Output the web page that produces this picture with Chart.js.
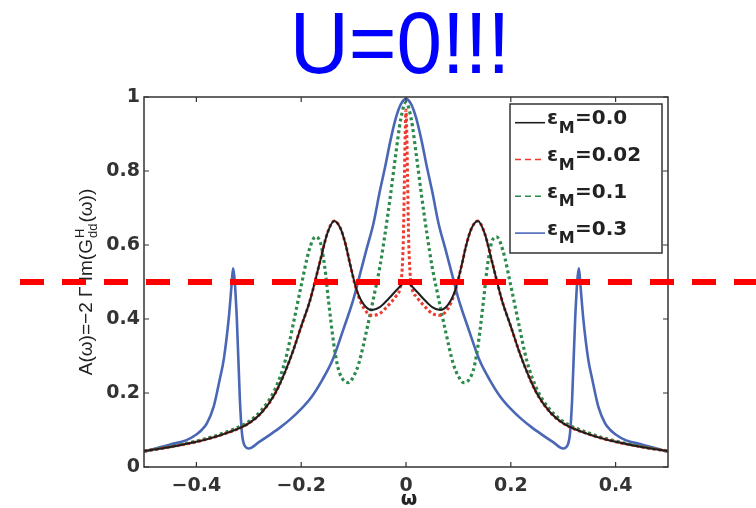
<!DOCTYPE html>
<html>
<head>
<meta charset="utf-8">
<script src="https://cdn.jsdelivr.net/npm/chart.js@4.4.1/dist/chart.umd.min.js"></script>
<style>
  html, body { margin: 0; padding: 0; background: #fff; }
  #wrap { width: 756px; height: 508px; }
</style>
</head>
<body>
<div id="wrap"><canvas id="spec" width="756" height="508"></canvas></div>
<script>
// ---- data ----
const titleText = 'U=0!!!';
const xTicks = [-0.4, -0.2, 0, 0.2, 0.4];
const yTicks = [0, 0.2, 0.4, 0.6, 0.8, 1];
const legendValues = ['0.0', '0.02', '0.1', '0.3'];
const cutLevel = 0.5;

// eps_M = 0.0 (black)
const wBlack = [-0.5, -0.45, -0.4, -0.35, -0.3, -0.275, -0.25, -0.23, -0.215, -0.2, -0.183, -0.165, -0.15, -0.137, -0.125, -0.115, -0.107, -0.094, -0.08, -0.065, -0.05, -0.035, -0.02, -0.01, 0,
                0.01, 0.02, 0.035, 0.05, 0.065, 0.08, 0.094, 0.107, 0.115, 0.125, 0.137, 0.15, 0.165, 0.183, 0.2, 0.215, 0.23, 0.25, 0.275, 0.3, 0.35, 0.4, 0.45, 0.5];
const aBlack = [0.043, 0.054, 0.068, 0.088, 0.118, 0.148, 0.198, 0.26, 0.316, 0.38, 0.451, 0.55, 0.632, 0.665, 0.645, 0.6, 0.55, 0.478, 0.438, 0.424, 0.432, 0.452, 0.475, 0.49, 0.5,
                0.49, 0.475, 0.452, 0.432, 0.424, 0.438, 0.478, 0.55, 0.6, 0.645, 0.665, 0.632, 0.55, 0.451, 0.38, 0.316, 0.26, 0.198, 0.148, 0.118, 0.088, 0.068, 0.054, 0.043];

// eps_M = 0.02 (red)
const wRed = [-0.5, -0.45, -0.4, -0.35, -0.3, -0.275, -0.25, -0.23, -0.215, -0.2, -0.183, -0.165, -0.15, -0.137, -0.125, -0.115, -0.107, -0.094, -0.08, -0.065, -0.05, -0.035, -0.02, -0.012, -0.008, -0.005, -0.003, -0.0015, 0,
              0.0015, 0.003, 0.005, 0.008, 0.012, 0.02, 0.035, 0.05, 0.065, 0.08, 0.094, 0.107, 0.115, 0.125, 0.137, 0.15, 0.165, 0.183, 0.2, 0.215, 0.23, 0.25, 0.275, 0.3, 0.35, 0.4, 0.45, 0.5];
const aRed = [0.043, 0.054, 0.068, 0.088, 0.118, 0.148, 0.198, 0.26, 0.316, 0.38, 0.451, 0.55, 0.632, 0.665, 0.645, 0.6, 0.55, 0.475, 0.428, 0.41, 0.415, 0.435, 0.46, 0.48, 0.52, 0.62, 0.78, 0.9, 0.965,
              0.9, 0.78, 0.62, 0.52, 0.48, 0.46, 0.435, 0.415, 0.41, 0.428, 0.475, 0.55, 0.6, 0.645, 0.665, 0.632, 0.55, 0.451, 0.38, 0.316, 0.26, 0.198, 0.148, 0.118, 0.088, 0.068, 0.054, 0.043];

// eps_M = 0.1 (green)
const wGreen = [-0.5, -0.45, -0.4, -0.35, -0.3, -0.275, -0.25, -0.23, -0.215, -0.2, -0.185, -0.173, -0.163, -0.155, -0.148, -0.138, -0.13, -0.122, -0.11, -0.1, -0.09, -0.075, -0.06, -0.05, -0.04, -0.03, -0.02, -0.01, 0,
                0.01, 0.02, 0.03, 0.04, 0.05, 0.06, 0.075, 0.09, 0.1, 0.11, 0.122, 0.13, 0.138, 0.148, 0.155, 0.163, 0.173, 0.185, 0.2, 0.215, 0.23, 0.25, 0.275, 0.3, 0.35, 0.4, 0.45, 0.5];
const aGreen = [0.043, 0.055, 0.07, 0.091, 0.123, 0.155, 0.21, 0.29, 0.388, 0.49, 0.585, 0.622, 0.605, 0.54, 0.451, 0.334, 0.27, 0.24, 0.228, 0.245, 0.28, 0.37, 0.47, 0.54, 0.63, 0.73, 0.84, 0.94, 0.985,
                0.94, 0.84, 0.73, 0.63, 0.54, 0.47, 0.37, 0.28, 0.245, 0.228, 0.24, 0.27, 0.334, 0.451, 0.54, 0.605, 0.622, 0.585, 0.49, 0.388, 0.29, 0.21, 0.155, 0.123, 0.091, 0.07, 0.055, 0.043];

// eps_M = 0.3 (blue)
const wBlue = [-0.5, -0.45, -0.42, -0.4, -0.39, -0.38, -0.367, -0.355, -0.348, -0.338, -0.333, -0.33, -0.323, -0.317, -0.313, -0.308, -0.3, -0.28, -0.26, -0.24, -0.22, -0.2, -0.18, -0.16, -0.14, -0.12, -0.1, -0.088, -0.075, -0.062, -0.05, -0.04, -0.03, -0.02, -0.01, 0,
               0.01, 0.02, 0.03, 0.04, 0.05, 0.062, 0.075, 0.088, 0.1, 0.12, 0.14, 0.16, 0.18, 0.2, 0.22, 0.24, 0.26, 0.28, 0.3, 0.308, 0.313, 0.317, 0.323, 0.33, 0.333, 0.338, 0.348, 0.355, 0.367, 0.38, 0.39, 0.4, 0.42, 0.45, 0.5];
const aBlue = [0.041, 0.061, 0.072, 0.088, 0.1, 0.118, 0.163, 0.24, 0.289, 0.406, 0.49, 0.537, 0.406, 0.181, 0.091, 0.058, 0.05, 0.068, 0.087, 0.107, 0.13, 0.157, 0.19, 0.235, 0.29, 0.37, 0.455, 0.52, 0.59, 0.659, 0.745, 0.81, 0.88, 0.94, 0.98, 0.995,
               0.98, 0.94, 0.88, 0.81, 0.745, 0.659, 0.59, 0.52, 0.455, 0.37, 0.29, 0.235, 0.19, 0.157, 0.13, 0.107, 0.087, 0.068, 0.05, 0.058, 0.091, 0.181, 0.406, 0.537, 0.49, 0.406, 0.289, 0.24, 0.163, 0.118, 0.1, 0.088, 0.072, 0.061, 0.041];

const pts = (xs, ys) => xs.map((v, i) => ({ x: v, y: ys[i] }));

const styles = [
    { color: '#1e1e1e', width: 2,   dash: [],     legendDash: [] },
    { color: '#ee3b2f', width: 3,   dash: [3, 2.5], legendDash: [6, 4] },
    { color: '#2b8a4c', width: 3.2, dash: [3, 3],   legendDash: [6, 4] },
    { color: '#4a67b6', width: 2.6, dash: [],     legendDash: [] }
];

function tickLabel(v) {
    return v < 0 ? '\u2212' + Math.abs(v) : String(v);
}

// ---- overlay: frame, inward ticks, legend, axis titles, title, cut line ----
const overlay = {
    id: 'overlay',
    afterDraw(chart) {
        const { ctx, chartArea: a, scales: { x, y } } = chart;
        ctx.save();

        ctx.strokeStyle = '#333';
        ctx.lineWidth = 1.5;
        ctx.setLineDash([]);
        ctx.strokeRect(a.left, a.top, a.width, a.height);

        ctx.lineWidth = 1.2;
        ctx.beginPath();
        xTicks.forEach(v => {
            const px = x.getPixelForValue(v);
            ctx.moveTo(px, a.bottom); ctx.lineTo(px, a.bottom - 5);
            ctx.moveTo(px, a.top);    ctx.lineTo(px, a.top + 5);
        });
        yTicks.forEach(v => {
            const py = y.getPixelForValue(v);
            ctx.moveTo(a.left, py);  ctx.lineTo(a.left + 5, py);
            ctx.moveTo(a.right, py); ctx.lineTo(a.right - 5, py);
        });
        ctx.stroke();

        // legend box
        const lw = 152, lh = 149;
        const lx = a.right - lw - 6, ly = a.top + 7;
        ctx.fillStyle = '#fff';
        ctx.fillRect(lx, ly, lw, lh);
        ctx.strokeStyle = '#333';
        ctx.lineWidth = 1.5;
        ctx.strokeRect(lx, ly, lw, lh);
        legendValues.forEach((val, i) => {
            const s = styles[i];
            const ry = ly + 18.7 + i * 36.8;
            ctx.strokeStyle = s.color;
            ctx.lineWidth = 1.6;
            ctx.setLineDash(s.legendDash);
            ctx.beginPath();
            ctx.moveTo(lx + 5, ry); ctx.lineTo(lx + 35, ry);
            ctx.stroke();
            ctx.setLineDash([]);
            ctx.fillStyle = '#222';
            ctx.textAlign = 'left';
            ctx.textBaseline = 'alphabetic';
            let tx = lx + 37;
            ctx.font = 'bold 20px "DejaVu Sans"';
            ctx.fillText('\u03b5', tx, ry + 1.5);
            tx += ctx.measureText('\u03b5').width + 0.5;
            ctx.font = 'bold 16px "DejaVu Sans"';
            ctx.fillText('M', tx, ry + 10);
            tx += ctx.measureText('M').width + 0.5;
            ctx.font = 'bold 20px "DejaVu Sans"';
            ctx.fillText('=' + val, tx, ry + 1.5);
        });

        // y axis title with sub/superscripts
        ctx.save();
        ctx.translate(92, (a.top + a.bottom) / 2);
        ctx.rotate(-Math.PI / 2);
        ctx.fillStyle = '#222';
        ctx.textBaseline = 'alphabetic';
        ctx.textAlign = 'left';
        const mainFont = '19px "Liberation Sans"', smallFont = '13px "Liberation Sans"';
        const partA = 'A(\u03c9)=\u22122 \u0393 Im(G', partB = '(\u03c9))';
        ctx.font = mainFont;
        const wA = ctx.measureText(partA).width, wB = ctx.measureText(partB).width;
        ctx.font = smallFont;
        const wS = Math.max(ctx.measureText('H').width, ctx.measureText('dd').width);
        let sx = -(wA + wS + wB + 2) / 2;
        ctx.font = mainFont;
        ctx.fillText(partA, sx, 0);
        sx += wA + 1;
        ctx.font = smallFont;
        ctx.fillText('H', sx, -8);
        ctx.fillText('dd', sx, 5);
        sx += wS + 1;
        ctx.font = mainFont;
        ctx.fillText(partB, sx, 0);
        ctx.restore();

        // x axis title
        ctx.fillStyle = '#222';
        ctx.font = 'bold 19px "DejaVu Sans"';
        ctx.textAlign = 'center';
        ctx.textBaseline = 'middle';
        ctx.fillText('\u03c9', x.getPixelForValue(0) + 3, 500);

        // big title
        ctx.save();
        ctx.translate(400, 73);
        ctx.scale(0.93, 1);
        ctx.fillStyle = '#0000ff';
        ctx.font = '88px "Liberation Sans"';
        ctx.textAlign = 'center';
        ctx.textBaseline = 'alphabetic';
        ctx.fillText(titleText, 0, 0);
        ctx.restore();

        // thick red dashed cut line across the whole figure
        const yc = y.getPixelForValue(cutLevel);
        ctx.strokeStyle = '#ff0000';
        ctx.lineWidth = 6;
        ctx.setLineDash([24, 18]);
        ctx.beginPath();
        ctx.moveTo(20, yc);
        ctx.lineTo(chart.width, yc);
        ctx.stroke();

        ctx.restore();
    }
};

new Chart(document.getElementById('spec').getContext('2d'), {
    type: 'scatter',
    data: {
        datasets: [
            { label: 'eM=0.0',  data: pts(wBlack, aBlack) },
            { label: 'eM=0.02', data: pts(wRed, aRed) },
            { label: 'eM=0.1',  data: pts(wGreen, aGreen) },
            { label: 'eM=0.3',  data: pts(wBlue, aBlue) }
        ].map((d, i) => ({
            ...d,
            showLine: true,
            borderColor: styles[i].color,
            borderWidth: styles[i].width,
            borderDash: styles[i].dash,
            pointRadius: 0,
            cubicInterpolationMode: 'monotone',
            fill: false
        }))
    },
    options: {
        responsive: false,
        animation: false,
        layout: { padding: { left: 94, right: 88, top: 97, bottom: 6 } },
        plugins: { legend: { display: false }, tooltip: { enabled: false }, title: { display: false } },
        scales: {
            x: {
                type: 'linear', min: -0.5, max: 0.5,
                afterBuildTicks: s => { s.ticks = xTicks.map(v => ({ value: v })); },
                afterFit: s => { s.height = 35; },
                grid: { display: false, drawTicks: false },
                border: { display: false },
                ticks: {
                    padding: 8, color: '#333',
                    font: { family: 'DejaVu Sans', weight: 'bold', size: 19 },
                    callback: v => tickLabel(v)
                }
            },
            y: {
                type: 'linear', min: 0, max: 1,
                afterBuildTicks: s => { s.ticks = yTicks.map(v => ({ value: v })); },
                afterFit: s => { s.width = 50; },
                grid: { display: false, drawTicks: false },
                border: { display: false },
                ticks: {
                    padding: 4, color: '#333',
                    font: { family: 'DejaVu Sans', weight: 'bold', size: 19 },
                    callback: v => tickLabel(v)
                }
            }
        }
    },
    plugins: [overlay]
});
</script>
</body>
</html>
